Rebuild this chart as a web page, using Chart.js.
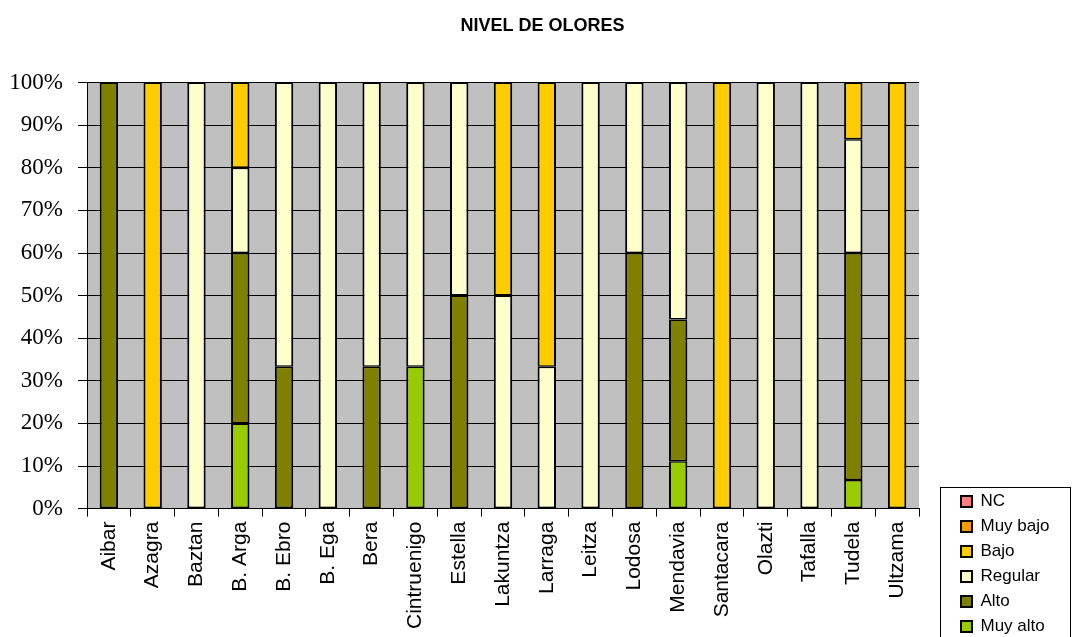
<!DOCTYPE html>
<html>
<head>
<meta charset="utf-8">
<script src="https://cdn.jsdelivr.net/npm/chart.js@4.4.1/dist/chart.umd.min.js"></script>
<style>
  html, body { margin: 0; padding: 0; background: #fff; }
  #wrap { width: 1075px; height: 637px; }
</style>
</head>
<body>
<div id="wrap"><canvas id="myChart"></canvas></div>
<script>
// categories and values (percent of answers per town)
const towns = ['Aibar', 'Azagra', 'Baztan', 'B. Arga', 'B. Ebro', 'B. Ega', 'Bera', 'Cintruenigo',
    'Estella', 'Lakuntza', 'Larraga', 'Leitza', 'Lodosa', 'Mendavia', 'Santacara', 'Olazti',
    'Tafalla', 'Tudela', 'Ultzama'];

const muyAlto  = [0, 0, 0, 20, 0, 0, 0, 33.3, 0, 0, 0, 0, 0, 11.1, 0, 0, 0, 6.7, 0];
const alto     = [100, 0, 0, 40, 33.3, 0, 33.3, 0, 50, 0, 0, 0, 60, 33.3, 0, 0, 0, 53.3, 0];
const regular  = [0, 0, 100, 20, 66.7, 100, 66.7, 66.7, 50, 50, 33.3, 100, 40, 55.6, 0, 100, 100, 26.7, 0];
const bajo     = [0, 100, 0, 20, 0, 0, 0, 0, 0, 50, 66.7, 0, 0, 0, 100, 0, 0, 13.3, 100];
const muyBajo  = [0, 0, 0, 0, 0, 0, 0, 0, 0, 0, 0, 0, 0, 0, 0, 0, 0, 0, 0];
const nc       = [0, 0, 0, 0, 0, 0, 0, 0, 0, 0, 0, 0, 0, 0, 0, 0, 0, 0, 0];

const yTicks = [0, 10, 20, 30, 40, 50, 60, 70, 80, 90, 100];

function series(label, data, color) {
    return {
        label: label,
        data: data,
        backgroundColor: color,
        borderColor: '#000',
        // no outline for empty segments; thinner top/bottom so joins stay ~2-3px
        borderWidth: ctx => (ctx.raw ? { left: 2, right: 2, top: 1.5, bottom: 1.5 } : 0),
        borderSkipped: false,
        categoryPercentage: 1,
        barPercentage: 0.42
    };
}

// gray plot area, legend size/position and the border round the legend
const plotBg = {
    id: 'plotBg',
    afterInit(chart) {
        const legend = chart.legend;
        const baseFit = legend.fit;
        legend.fit = function () {
            baseFit.call(this);
            this.width = 156;
        };
    },
    afterLayout(chart) {
        chart.legend.left = 953;
        chart.legend.bottom = 643;
    },
    beforeDraw(chart) {
        const a = chart.chartArea, ctx = chart.ctx;
        ctx.save();
        ctx.fillStyle = '#c0c0c0';
        ctx.fillRect(a.left, a.top, a.right - a.left, a.bottom - a.top);
        ctx.restore();
    },
    afterDraw(chart) {
        const ctx = chart.ctx;
        ctx.save();
        ctx.strokeStyle = '#000';
        ctx.lineWidth = 1;
        ctx.strokeRect(940.5, 487.5, 130, 180);
        ctx.restore();
    }
};

const canvas = document.getElementById('myChart');

const myChart = new Chart(canvas, {
    type: 'bar',
    data: {
        labels: towns,
        datasets: [
            series('Muy alto', muyAlto, '#99cc00'),
            series('Alto', alto, '#808000'),
            series('Regular', regular, '#ffffcc'),
            series('Bajo', bajo, '#ffcc00'),
            series('Muy bajo', muyBajo, '#ff9900'),
            series('NC', nc, '#ff8080')
        ]
    },
    plugins: [plotBg],
    options: {
        animation: false,
        responsive: true,
        maintainAspectRatio: false,
        layout: { padding: { left: 10, right: 0, top: 0, bottom: 3 } },
        plugins: {
            title: {
                display: true,
                text: 'NIVEL DE OLORES',
                color: '#000',
                font: { family: 'Liberation Sans', size: 18, weight: 'bold' },
                padding: { top: 15, bottom: 46 }
            },
            legend: {
                position: 'right',
                align: 'end',
                reverse: true,
                labels: {
                    color: '#000',
                    font: { family: 'Liberation Sans', size: 17 },
                    boxWidth: 11,
                    boxHeight: 11,
                    padding: 8,
                    generateLabels(chart) {
                        const items = Chart.defaults.plugins.legend.labels.generateLabels(chart);
                        items.forEach(it => {
                            it.lineWidth = 2;
                            it.strokeStyle = '#000';
                        });
                        return items;
                    }
                }
            },
            tooltip: { enabled: false }
        },
        scales: {
            x: {
                stacked: true,
                grid: {
                    offset: true,
                    drawOnChartArea: false,
                    drawTicks: true,
                    tickLength: 8,
                    color: '#000'
                },
                border: { color: '#000', width: 1 },
                ticks: {
                    color: '#000',
                    font: { family: 'Liberation Sans', size: 21 },
                    minRotation: 90,
                    maxRotation: 90,
                    autoSkip: false,
                    padding: 5
                }
            },
            y: {
                stacked: true,
                min: 0,
                max: 100,
                afterBuildTicks(axis) {
                    axis.ticks = yTicks.map(v => ({ value: v }));
                },
                afterFit(axis) {
                    axis.width = 77;
                },
                grid: {
                    color: '#000',
                    lineWidth: 1,
                    tickLength: 9
                },
                border: { color: '#000', width: 1 },
                ticks: {
                    color: '#000',
                    font: { family: 'Liberation Serif', size: 23 },
                    padding: 15,
                    callback: v => v + '%'
                }
            }
        }
    }
});
</script>
</body>
</html>
